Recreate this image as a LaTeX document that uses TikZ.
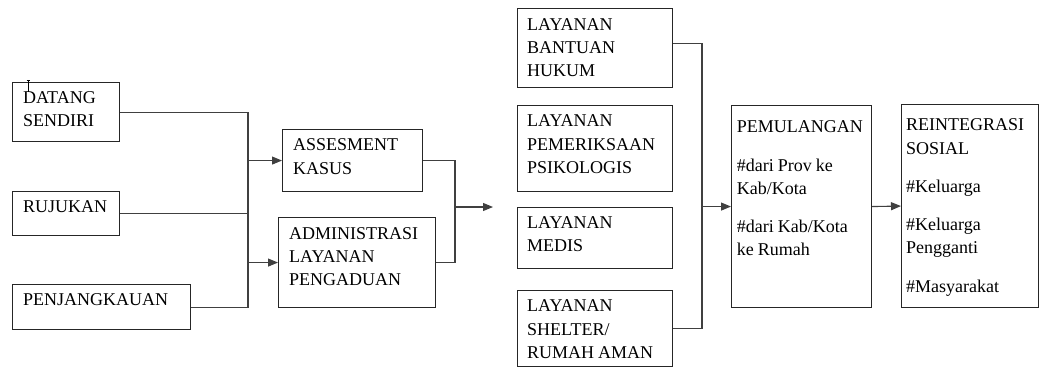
\documentclass[tikz,border=0pt]{standalone}
\usepackage{fontspec}
\setmainfont{Liberation Serif}
\usetikzlibrary{arrows.meta}
\begin{document}
\begin{tikzpicture}[x=1pt,y=-1pt,
  box/.style={draw=black!85, line width=1.1pt, inner sep=0pt, anchor=north west},
  txt/.style={anchor=base west, inner sep=0pt, text width=200pt, align=left, font=\fontsize{18}{23.3}\selectfont, execute at begin node={\spaceskip=0.22em plus 0.05em\relax}},
  conn/.style={line width=1.1pt, draw=black!75},
  arr/.style={conn, -{Triangle[length=10pt,width=8pt]}}]
\useasboundingbox (0,0) rectangle (1040,367);
% boxes
\node[box, minimum width=107pt, minimum height=59pt] (ds) at (12,82) {};
\node[box, minimum width=107pt, minimum height=44pt] (rj) at (12,191) {};
\node[box, minimum width=178pt, minimum height=45pt] (pj) at (12,284) {};
\node[box, minimum width=140pt, minimum height=62pt] (as) at (282,129) {};
\node[box, minimum width=157pt, minimum height=90pt] (ad) at (278,217) {};
\node[box, minimum width=155pt, minimum height=79pt] (lb) at (517,8) {};
\node[box, minimum width=155pt, minimum height=86pt] (lp) at (517,105) {};
\node[box, minimum width=155pt, minimum height=61pt] (lm) at (517,207) {};
\node[box, minimum width=155pt, minimum height=76pt] (ls) at (517,290) {};
\node[box, minimum width=140pt, minimum height=202pt] (pm) at (731,105) {};
\node[box, minimum width=136.5pt, minimum height=203pt] (ri) at (901,104) {};
% texts
\node[txt] (tds) at (23,103) {DATANG\\SENDIRI};
\node[txt] (trj) at (23,212.7) {RUJUKAN};
\node[txt] (tpj) at (23,305) {PENJANGKAUAN};
\node[txt] (tas) at (293,150.7) {ASSESMENT\\KASUS};
\node[txt] (tad) at (289,239) {ADMINISTRASI\\LAYANAN\\PENGADUAN};
\node[txt] (tlb) at (527,30) {LAYANAN\\BANTUAN\\HUKUM};
\node[txt] (tlp) at (527,126.7) {LAYANAN\\PEMERIKSAAN\\PSIKOLOGIS};
\node[txt] (tlm) at (527,228.3) {LAYANAN\\MEDIS};
\node[txt] (tls) at (527,311.7) {LAYANAN\\SHELTER/\\RUMAH AMAN};
\node[txt] (tpm) at (736.7,132.7) {PEMULANGAN\\[15pt]\#dari Prov ke\\Kab/Kota\\[15pt]\#dari Kab/Kota\\ke Rumah};
\node[txt] (tri) at (906,130.7) {REINTEGRASI\\SOSIAL\\[15pt]\#Keluarga\\[15pt]\#Keluarga\\Pengganti\\[15pt]\#Masyarakat};
% cursor mark
\draw[line width=0.9pt] (26.5,80) -- (30,80) (28.3,80) -- (28.3,92);
% junction coordinates
\coordinate (jL) at (248,0);
\coordinate (jM) at (455,0);
\coordinate (jR) at (702,0);
\coordinate (tgt) at (493,207);
\coordinate (lbo) at ([yshift=4.5pt]lb.east);
% connectors
\draw[conn] (ds.east) -- (ds.east -| jL) -- (pj.east -| jL) -- (pj.east);
\draw[conn] (rj.east) -- (rj.east -| jL);
\draw[arr] (as.west -| jL) -- (as.west);
\draw[arr] (ad.west -| jL) -- (ad.west);
\draw[conn] (as.east) -- (as.east -| jM) -- (ad.east -| jM) -- (ad.east);
\draw[arr] (tgt -| jM) -- (tgt);
\draw[conn] (lbo) -- (lbo -| jR) -- (ls.east -| jR) -- (ls.east);
\draw[arr] (pm.west -| jR) -- (pm.west);
\draw[arr] (pm.east) -- (ri.west);
\end{tikzpicture}
\end{document}
